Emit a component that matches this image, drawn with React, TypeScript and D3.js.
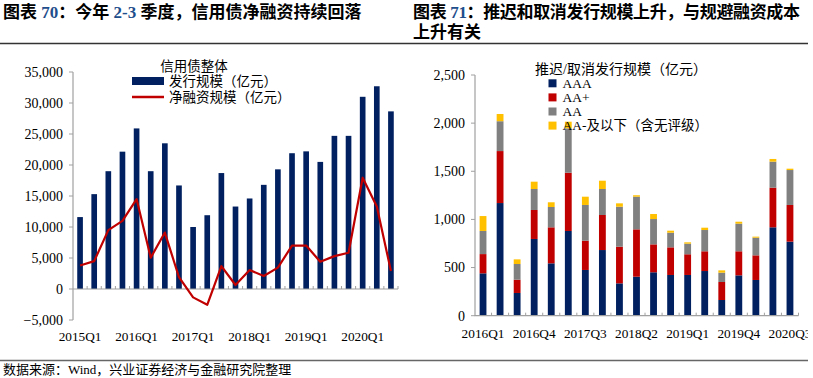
import React from "react";
import * as d3 from "d3";

const leftCats = ["2015Q1","2015Q2","2015Q3","2015Q4","2016Q1","2016Q2","2016Q3","2016Q4","2017Q1","2017Q2","2017Q3","2017Q4","2018Q1","2018Q2","2018Q3","2018Q4","2019Q1","2019Q2","2019Q3","2019Q4","2020Q1","2020Q2","2020Q3"];
const issuance = [11600,15300,19000,22150,25900,19000,23500,16700,10000,11900,18700,13300,14600,16800,19300,21900,22200,20500,24700,24700,31000,32700,28650];
const netFinancing = [3800,4500,9500,11000,14500,5050,9100,1900,-1350,-2550,3700,650,3050,2100,3450,7000,7000,4400,5300,5850,17950,13300,2900];
const leftYTicks = [-5000,0,5000,10000,15000,20000,25000,30000,35000];
const leftXLabels = ["2015Q1","2016Q1","2017Q1","2018Q1","2019Q1","2020Q1"];

const rightCats = ["2016Q1","2016Q2","2016Q3","2016Q4","2017Q1","2017Q2","2017Q3","2017Q4","2018Q1","2018Q2","2018Q3","2018Q4","2019Q1","2019Q2","2019Q3","2019Q4","2020Q1","2020Q2","2020Q3"];
const aaa = [440,1170,236,797,544,880,475,682,336,405,451,423,423,464,163,419,371,918,769];
const aaPlus = [200,540,138,301,374,605,304,364,381,492,290,287,215,205,187,250,256,412,381];
const aa = [240,310,163,218,211,461,371,270,415,339,263,152,110,221,97,287,183,270,363];
const aaMinus = [155,75,48,76,49,69,86,86,35,15,52,21,14,24,24,20,11,28,14];
const rightYTicks = [0,500,1000,1500,2000,2500];
const rightXLabels = ["2016Q1","2016Q4","2017Q3","2018Q2","2019Q1","2019Q4","2020Q3"];

const seriesNames = ["AAA","AA+","AA","AA-及以下（含无评级）"];
const seriesColors = ["#002060","#c00000","#808080","#ffc000"];

const FONT = "'Liberation Serif','Times New Roman','Noto Sans CJK SC',serif";
const AXIS = "#a0a0a0";
const NAVY = "#002060";
const RED = "#c00000";
const NUMBLUE = "#1f4e8c";

export default function App() {
  const fmt = d3.format(",");

  const xL = d3.scaleBand<string>().domain(leftCats).range([73, 398]).paddingInner(0.6).paddingOuter(0.3);
  const yL = d3.scaleLinear().domain([-5000, 35000]).range([320, 72]);
  const stepL = xL.step();
  const cL = (c: string) => (xL(c) as number) + xL.bandwidth() / 2;
  const line = d3.line<number>().x((_, i) => cL(leftCats[i])).y((v) => yL(v));

  const xR = d3.scaleBand<string>().domain(rightCats).range([474.5, 798.5]).paddingInner(0.6).paddingOuter(0.3);
  const yR = d3.scaleLinear().domain([0, 2500]).range([315.7, 75]);
  const stepR = xR.step();
  const cR = (c: string) => (xR(c) as number) + xR.bandwidth() / 2;

  const table = rightCats.map((c, i) => ({ cat: c, AAA: aaa[i], "AA+": aaPlus[i], AA: aa[i], "AA-及以下（含无评级）": aaMinus[i] }));
  const stacked = d3.stack<any>().keys(seriesNames)(table);

  return (
    <svg width={813} height={378} style={{ position: "absolute", left: 0, top: 0, background: "#fff" }} fontFamily={FONT}>
      <defs>
        <clipPath id="rclip"><rect x={410} y={0} width={398} height={378} /></clipPath>
      </defs>
      <rect x={0} y={0} width={813} height={378} fill="#fff" />
      <text x={3} y={17.5} fontSize={17} fontWeight="bold" fill="#000">
        图表 <tspan fill={NUMBLUE}>70</tspan>：今年 <tspan fill={NUMBLUE}>2-3</tspan> 季度，信用债净融资持续回落
      </text>
      <text x={413} y={17.5} fontSize={17} fontWeight="bold" fill="#000" textLength={387} lengthAdjust="spacing">
        图表 <tspan fill={NUMBLUE}>71</tspan>：推迟和取消发行规模上升，与规避融资成本
      </text>
      <text x={413} y={37.5} fontSize={17} fontWeight="bold" fill="#000">上升有关</text>
      <line x1={0} x2={808} y1={43.5} y2={43.5} stroke="#333" strokeWidth={1.5} />
      <line x1={0} x2={808} y1={360.5} y2={360.5} stroke="#666" strokeWidth={1.5} />
      <text x={3} y={373.5} fontSize={13} fill="#000">数据来源：Wind，兴业证券经济与金融研究院整理</text>

      <g>
        {issuance.map((v, i) => (
          <rect key={i} x={xL(leftCats[i])} y={yL(v)} width={xL.bandwidth()} height={yL(0) - yL(v)} fill={NAVY} />
        ))}
        <line x1={73} x2={398} y1={yL(0)} y2={yL(0)} stroke={AXIS} strokeWidth={1.2} />
        {leftCats.map((c, i) => (
          <line key={i} x1={cL(c) + stepL / 2} x2={cL(c) + stepL / 2} y1={yL(0)} y2={yL(0) - 3} stroke={AXIS} strokeWidth={1} />
        ))}
        <path d={line(netFinancing) || ""} fill="none" stroke={RED} strokeWidth={2.2} strokeLinejoin="round" />
        <line x1={73} x2={73} y1={yL(35000)} y2={yL(-5000)} stroke={AXIS} strokeWidth={1.2} />
        {leftYTicks.map((t) => (
          <g key={t}>
            <line x1={69} x2={73} y1={yL(t)} y2={yL(t)} stroke={AXIS} strokeWidth={1} />
            <text x={63} y={yL(t)} dy="0.35em" textAnchor="end" fontSize={14} fill="#000">{fmt(t)}</text>
          </g>
        ))}
        {leftXLabels.map((c) => (
          <text key={c} x={cL(c)} y={341} textAnchor="middle" fontSize={13.3} fill="#000">{c}</text>
        ))}
        <text x={194} y={70.5} textAnchor="middle" fontSize={13.5} fill="#000">信用债整体</text>
        <rect x={132} y={77} width={32} height={8} fill={NAVY} />
        <text x={169} y={85.5} fontSize={13.5} fill="#000">发行规模（亿元）</text>
        <line x1={132} x2={164} y1={97} y2={97} stroke={RED} strokeWidth={2.5} />
        <text x={169} y={102} fontSize={13.5} fill="#000">净融资规模（亿元）</text>
      </g>

      <g clipPath="url(#rclip)">
        {stacked.map((s, si) => (
          <g key={si} fill={seriesColors[si]}>
            {s.map((d, i) => (
              <rect key={i} x={xR(rightCats[i])} y={yR(d[1])} width={xR.bandwidth()} height={yR(d[0]) - yR(d[1])} />
            ))}
          </g>
        ))}
        <line x1={474.5} x2={798.5} y1={yR(0)} y2={yR(0)} stroke={AXIS} strokeWidth={1.2} />
        {rightCats.map((c, i) => (
          <line key={i} x1={cR(c) + stepR / 2} x2={cR(c) + stepR / 2} y1={yR(0)} y2={yR(0) - 3} stroke={AXIS} strokeWidth={1} />
        ))}
        <line x1={475} x2={475} y1={yR(2500)} y2={yR(0)} stroke={AXIS} strokeWidth={1.2} />
        {rightYTicks.map((t) => (
          <g key={t}>
            <line x1={471} x2={475} y1={yR(t)} y2={yR(t)} stroke={AXIS} strokeWidth={1} />
            <text x={465} y={yR(t)} dy="0.35em" textAnchor="end" fontSize={14} fill="#000">{fmt(t)}</text>
          </g>
        ))}
        {rightXLabels.map((c) => (
          <text key={c} x={cR(c)} y={338} textAnchor="middle" fontSize={13.3} fill="#000">{c}</text>
        ))}
        <text x={535} y={73.5} fontSize={14} fill="#000">推迟/取消发行规模（亿元）</text>
        {seriesNames.map((n, i) => (
          <g key={n}>
            <rect x={548.5} y={79.3 + i * 14.1} width={8} height={8} fill={seriesColors[i]} />
            <text x={562.5} y={88 + i * 14.1} fontSize={13.5} fill="#000">{n}</text>
          </g>
        ))}
      </g>
    </svg>
  );
}
